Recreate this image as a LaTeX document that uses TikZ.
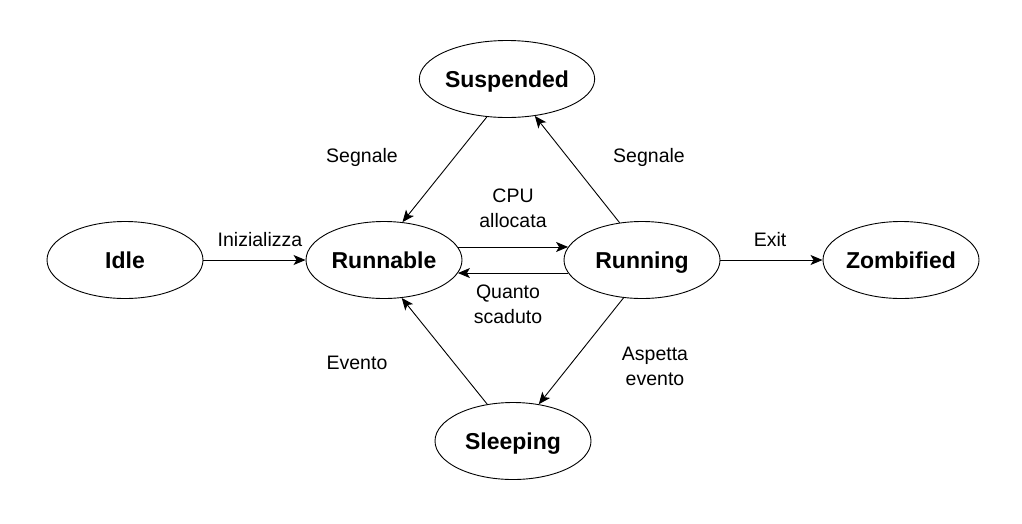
\documentclass[tikz,border=0pt]{standalone}
\usepackage{fontspec}
\setmainfont{Liberation Sans}
\usetikzlibrary{shapes.geometric,arrows.meta}
\begin{document}
\begin{tikzpicture}[x=1pt,y=-1pt,
  state/.style={draw, ellipse, line width=0.9pt, minimum width=156pt, minimum height=77pt, inner sep=0pt,
    text height=16.5pt, text depth=0pt,
    font=\fontsize{23}{27}\selectfont\bfseries},
  lbl/.style={align=center, inner sep=0pt, font=\fontsize{19.5}{25}\selectfont},
  conn/.style={line width=0.9pt, -{Stealth[length=12pt,width=10pt,inset=3pt]}}]
\useasboundingbox (0,0) rectangle (1022,523);
\node[state] (idle) at (125,260) {Idle};
\node[state] (runnable) at (384,260) {Runnable};
\node[state] (running) at (642,260) {Running};
\node[state] (zomb) at (901,260) {Zombified};
\node[state] (susp) at (507,79) {Suspended};
\node[state] (sleep) at (513,441) {Sleeping};

\draw[conn] (idle) -- (runnable);
\draw[conn] (running) -- (zomb);
\draw[conn] (runnable.10) -- (running.170);
\draw[conn] (running.190) -- (runnable.350);
\draw[conn] (susp.242) -- (runnable.64.6);
\draw[conn] (running.121) -- (susp.307.6);
\draw[conn] (sleep.125.4) -- (runnable.295);
\draw[conn] (running.244) -- (sleep.55.3);

\node[lbl] (l1) at (260,240) {Inizializza};
\node[lbl] (l2) at (770,240) {Exit};
\node[lbl] (l3) at (513,208) {CPU\\allocata};
\node[lbl] (l4) at (508,304) {Quanto\\scaduto};
\node[lbl] (l5) at (362,157) {Segnale};
\node[lbl] (l6) at (649,157) {Segnale};
\node[lbl] (l7) at (357,363) {Evento};
\node[lbl] (l8) at (655,366) {Aspetta\\evento};
\end{tikzpicture}
\end{document}
